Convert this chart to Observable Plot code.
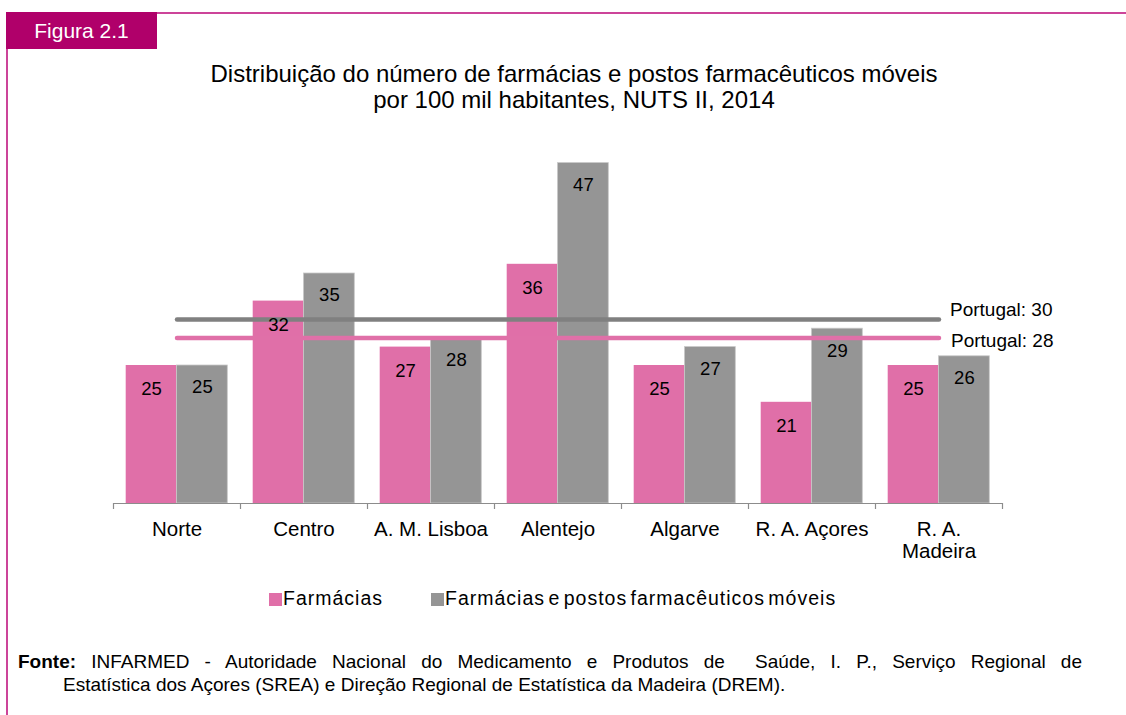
<!DOCTYPE html>
<html><head><meta charset="utf-8">
<script src="https://cdn.jsdelivr.net/npm/d3@7"></script>
<script src="https://cdn.jsdelivr.net/npm/@observablehq/plot@0.6"></script>
<style>
body{margin:0;background:#fff;font-family:"Liberation Sans",Arial,sans-serif;color:#000;}
#wrap{position:relative;width:1126px;height:715px;overflow:hidden;}
#tag{position:absolute;left:6px;top:12px;width:151px;height:37px;background:#B0006A;color:#fff;font-size:21px;line-height:37px;text-align:center;}
#topline{position:absolute;left:157px;top:12px;right:0;height:2px;background:#CC4499;}
#leftline{position:absolute;left:6px;top:49px;bottom:0;width:2px;background:#CC4499;}
#title{position:absolute;left:0;top:61px;width:1148px;text-align:center;font-size:24px;line-height:26px;}
#chart{position:absolute;left:0;top:130px;}
#legend{position:absolute;left:0;top:587px;width:1126px;font-size:19.5px;letter-spacing:1px;word-spacing:-3px;}
#legend span.item{position:absolute;top:0;white-space:nowrap;}
#legend i{display:inline-block;width:13px;height:13px;margin-right:1px;vertical-align:-1px;}
#src1{position:absolute;left:18px;top:650px;width:1064px;font-size:19px;line-height:23px;text-align:justify;text-align-last:justify;}
#src2{position:absolute;left:63px;top:673px;font-size:19px;line-height:23px;white-space:nowrap;}
</style></head>
<body>
<div id="wrap">
  <div id="tag">Figura 2.1</div>
  <div id="topline"></div>
  <div id="leftline"></div>
  <div id="title">Distribuição do número de farmácias e postos farmacêuticos móveis<br>por 100 mil habitantes, NUTS II, 2014</div>
  <div id="chart"></div>
  <div id="legend"></div>
  <div id="src1"><b>Fonte:</b> INFARMED - Autoridade Nacional do Medicamento e Produtos de&nbsp; Saúde, I. P., Serviço Regional de</div>
  <div id="src2">Estatística dos Açores (SREA) e Direção Regional de Estatística da Madeira (DREM).</div>
</div>
<script>
// ---- data ----
const regions = ["Norte", "Centro", "A. M. Lisboa", "Alentejo", "Algarve", "R. A. Açores", "R. A.\nMadeira"];
const farmacias = [25, 32, 27, 36, 25, 21, 25];
const farmaciasPostos = [25, 35, 28, 47, 27, 29, 26];
const seriesNames = ["Farmácias", "Farmácias e postos farmacêuticos móveis"];
const portugalFarmacias = 28;
const portugalPostos = 30;
const portugalLabels = ["Portugal: 28", "Portugal: 30"];
const seriesColors = ["#E06FA8", "#959595"];
const lineColors = ["#E070A8", "#808080"];

// ---- layout ----
const W = 1126, H = 440, ML = 113, MR = 124, MT = 5, MB = 67;
const yMin = 10, yMax = 50;
const bw = (W - ML - MR) / regions.length;
const pxPerUnit = (H - MT - MB) / (yMax - yMin);

const rows0 = regions.map((r, i) => ({region: r, value: farmacias[i]}));
const rows1 = regions.map((r, i) => ({region: r, value: farmaciasPostos[i]}));
const lineP = regions.map(r => ({region: r, value: portugalFarmacias}));
const lineT = regions.map(r => ({region: r, value: portugalPostos}));
const last = regions[regions.length - 1];

const chart = Plot.plot({
  width: W, height: H,
  marginLeft: ML, marginRight: MR, marginTop: MT, marginBottom: MB,
  style: {fontFamily: '"Liberation Sans", Arial, sans-serif', background: "transparent", color: "#000"},
  x: {type: "band", domain: regions, padding: 0, axis: null},
  y: {domain: [yMin, yMax], axis: null},
  marks: [
    Plot.barY(rows0, {x: "region", y1: yMin, y2: "value", fill: seriesColors[0], insetLeft: 0.1 * bw, insetRight: 0.5 * bw}),
    Plot.barY(rows1, {x: "region", y1: yMin, y2: "value", fill: seriesColors[1], stroke: "#c8c8c8", strokeWidth: 0.8, insetLeft: 0.5 * bw, insetRight: 0.1 * bw}),
    Plot.ruleY([yMin], {stroke: "#8c8c8c", strokeWidth: 1.2}),
    Plot.ruleX(regions, {x: d => d, dx: -bw / 2, y1: yMin, y2: yMin - 6 / pxPerUnit, stroke: "#8c8c8c", strokeWidth: 1.2}),
    Plot.ruleX([last], {x: d => d, dx: bw / 2, y1: yMin, y2: yMin - 6 / pxPerUnit, stroke: "#8c8c8c", strokeWidth: 1.2}),
    Plot.lineY(lineT, {x: "region", y: "value", stroke: lineColors[1], strokeWidth: 4.5, strokeLinecap: "round"}),
    Plot.lineY(lineP, {x: "region", y: "value", stroke: lineColors[0], strokeWidth: 4.5, strokeLinecap: "round"}),
    Plot.text(rows0, {x: "region", y: "value", text: d => String(d.value), dx: -0.2 * bw, dy: 24, fontSize: 18.5, fill: "#000"}),
    Plot.text(rows1, {x: "region", y: "value", text: d => String(d.value), dx: 0.2 * bw, dy: 22, fontSize: 18.5, fill: "#000"}),
    Plot.text([{region: last, value: portugalPostos, label: portugalLabels[1]}], {x: "region", y: "value", text: "label", dx: 11, dy: -10, textAnchor: "start", fontSize: 19, fill: "#000"}),
    Plot.text([{region: last, value: portugalFarmacias, label: portugalLabels[0]}], {x: "region", y: "value", text: "label", dx: 12, dy: 3, textAnchor: "start", fontSize: 19, fill: "#000"}),
    Plot.text(regions, {x: d => d, y: yMin, text: d => d, dy: 17, lineAnchor: "top", lineHeight: 1.06, fontSize: 20.5, fill: "#000"})
  ]
});
document.getElementById("chart").appendChild(chart);

// legend
const legend = document.getElementById("legend");
const legendX = [269, 431];
seriesNames.forEach((name, i) => {
  const s = document.createElement("span");
  s.className = "item";
  s.style.left = legendX[i] + "px";
  const sw = document.createElement("i");
  sw.style.background = seriesColors[i];
  s.appendChild(sw);
  s.appendChild(document.createTextNode(name));
  legend.appendChild(s);
});
</script>
</body></html>
